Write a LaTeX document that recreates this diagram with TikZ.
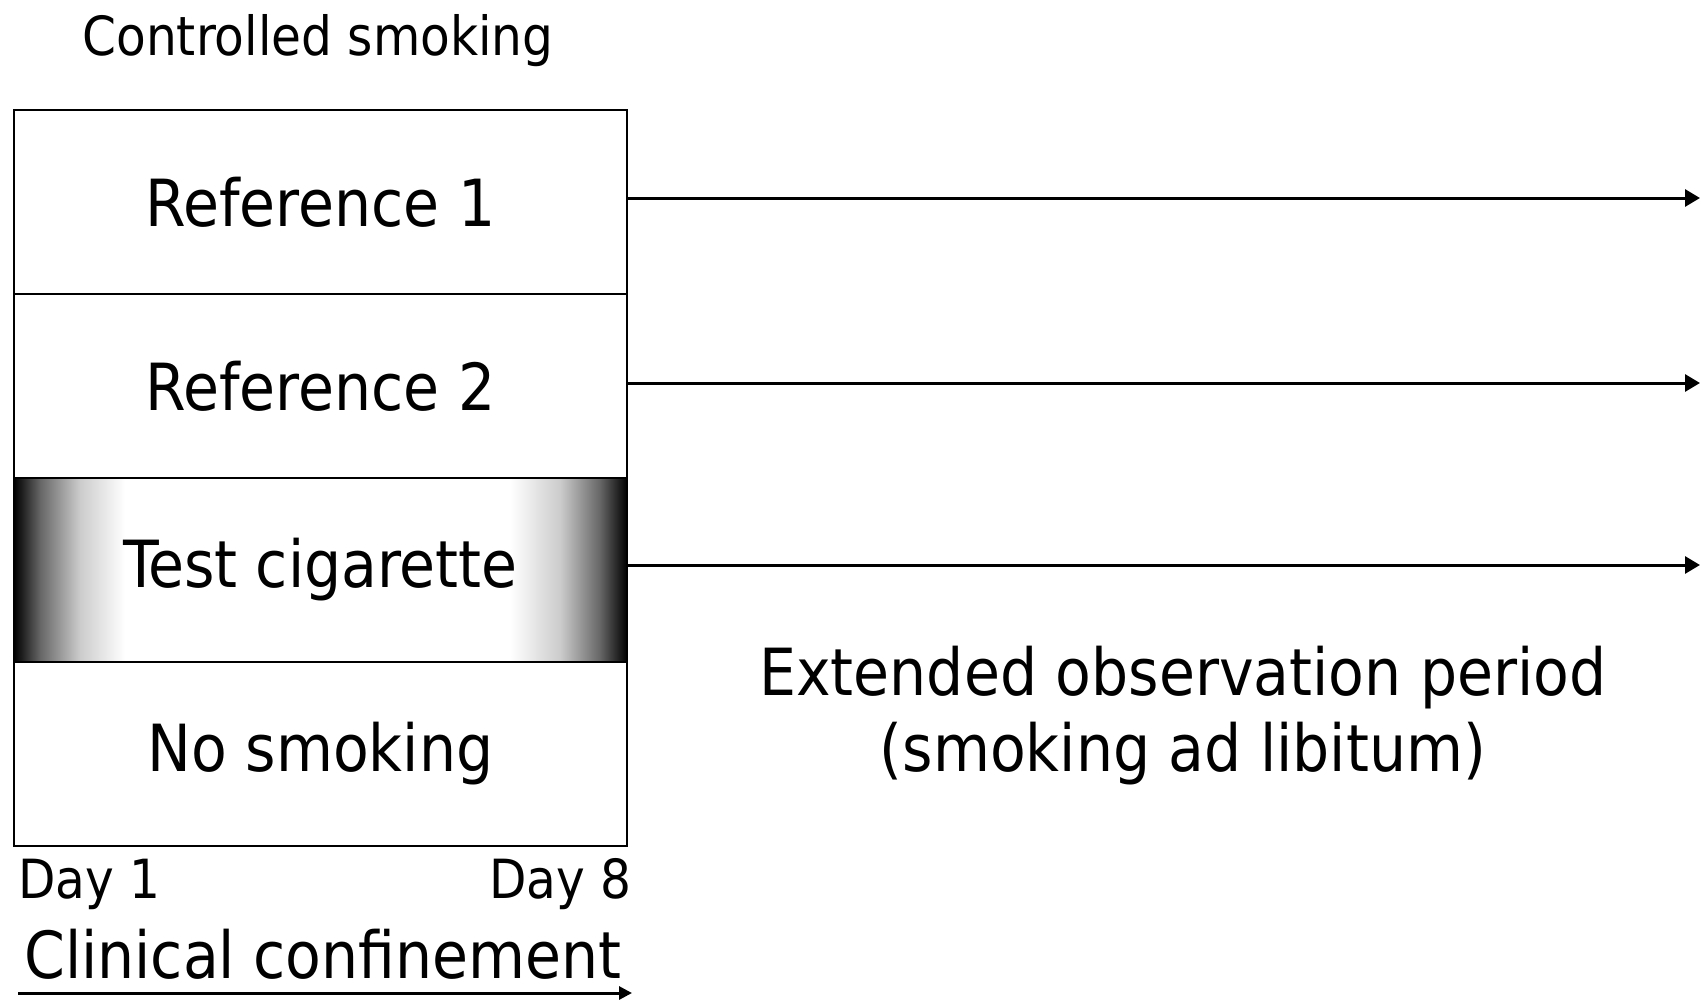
\documentclass[tikz,border=0pt]{standalone}
\usepackage{fontspec}
\setmainfont{DejaVu Sans Condensed}
\usetikzlibrary{arrows.meta}
\begin{document}
\begin{tikzpicture}[x=1pt,y=-1pt,
  big/.style={font=\fontsize{65}{76}\selectfont},
  small/.style={font=\fontsize{54}{60}\selectfont},
  rowbox/.style={draw, line width=1.8pt, minimum width=613pt, minimum height=184pt, inner sep=0pt, big},
  conn/.style={line width=3pt, -{Triangle[length=15pt,width=17pt]}},
  edgeshade/.style={draw=none}]
\useasboundingbox (0,0) rectangle (1700,1002);
% dark edges of the test-cigarette row
\shade[edgeshade, left color=black, right color=black!60] (14,478) rectangle (40,661);
\shade[edgeshade, left color=black!60, right color=black!20] (40,478) rectangle (80,661);
\shade[edgeshade, left color=black!20, right color=white] (80,478) rectangle (125,661);
\shade[edgeshade, left color=black!60, right color=black] (600,478) rectangle (627,661);
\shade[edgeshade, left color=black!20, right color=black!60] (560,478) rectangle (600,661);
\shade[edgeshade, left color=white, right color=black!20] (510,478) rectangle (560,661);
% rows
\node[rowbox] (r1) at (320.5,202) {Reference 1};
\node[rowbox] (r2) at (320.5,386) {Reference 2};
\node[rowbox, line width=2.4pt] (r3) at (320.5,570) {\raisebox{-6pt}{Test cigarette}};
\node[rowbox] (r4) at (320.5,754) {No smoking};
% arrows to the right
\coordinate (e) at (1700,0);
\draw[conn] ([yshift=4pt]r1.east) -- ([yshift=4pt]r1.east -| e);
\draw[conn] ([yshift=3pt]r2.east) -- ([yshift=3pt]r2.east -| e);
\draw[conn] ([yshift=5pt]r3.east) -- ([yshift=5pt]r3.east -| e);
% texts
\node[small] (title) at (318,41) {Controlled smoking};
\node[big, align=center] (ext) at (1183,716) {Extended observation period\\(smoking ad libitum)};
\node[small, anchor=west, inner sep=0pt] (d1) at (18,884) {Day 1};
\node[small, anchor=east, inner sep=0pt] (d8) at (632,884) {Day 8};
\node[big] (cc) at (323,954) {Clinical confinement};
\coordinate (a0) at (18,993);
\coordinate (a1) at (632,993);
\draw[line width=3pt, -{Triangle[length=13pt,width=13pt]}] (a0) -- (a1);
\end{tikzpicture}
\end{document}
